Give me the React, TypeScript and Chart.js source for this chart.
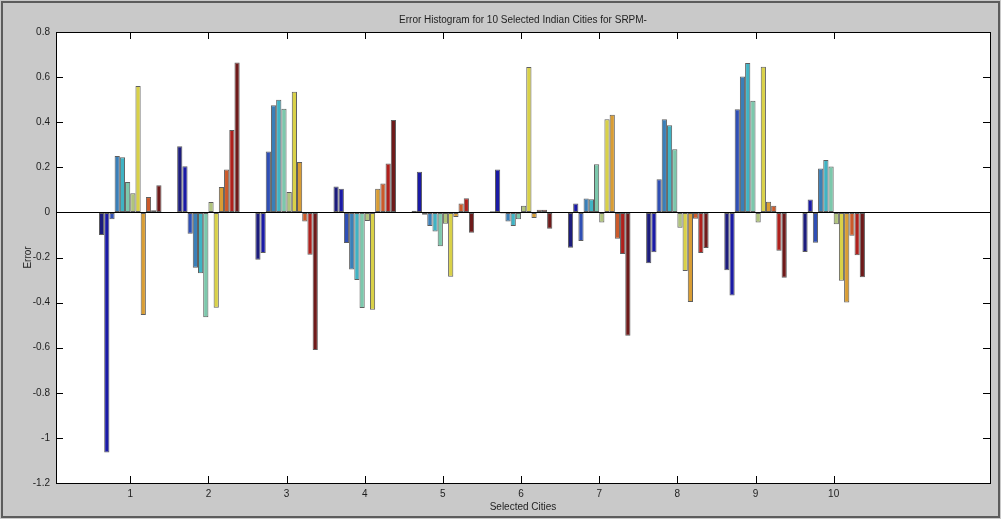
import React, { useEffect, useRef } from "react";
import { Chart, registerables } from "chart.js";

Chart.register(...registerables);

// ---- Data ----
const cityPositions = [1, 2, 3, 4, 5, 6, 7, 8, 9, 10];
const yTicks = [0.8, 0.6, 0.4, 0.2, 0, -0.2, -0.4, -0.6, -0.8, -1, -1.2];

const s1 = [-0.10, 0.293, -0.21, 0.115, 0.007, 0.005, -0.157, -0.225, -0.257, -0.176];
const s2 = [-1.065, 0.205, -0.18, 0.105, 0.18, 0.19, 0.04, -0.177, -0.368, 0.057];
const s3 = [-0.03, -0.095, 0.27, -0.136, -0.01, -0.005, -0.127, 0.147, 0.457, -0.135];
const s4 = [0.25, -0.245, 0.475, -0.253, -0.06, -0.04, 0.062, 0.413, 0.603, 0.195];
const s5 = [0.245, -0.27, 0.50, -0.30, -0.085, -0.06, 0.058, 0.387, 0.662, 0.232];
const s6 = [0.135, -0.465, 0.46, -0.424, -0.15, -0.03, 0.213, 0.28, 0.495, 0.203];
const s7 = [0.085, 0.046, 0.09, -0.038, -0.05, 0.03, -0.045, -0.068, -0.045, -0.052];
const s8 = [0.56, -0.423, 0.535, -0.432, -0.285, 0.645, 0.413, -0.26, 0.646, -0.303];
const s9 = [-0.455, 0.113, 0.223, 0.105, -0.02, -0.025, 0.433, -0.397, 0.047, -0.40];
const s10 = [0.068, 0.19, -0.04, 0.128, 0.04, 0.012, -0.117, -0.028, 0.03, -0.103];
const s11 = [0.01, 0.365, -0.188, 0.217, 0.063, 0.012, -0.185, -0.18, -0.17, -0.19];
const s12 = [0.12, 0.665, -0.61, 0.41, -0.09, -0.073, -0.547, -0.158, -0.29, -0.288];

const seriesValues = [s1, s2, s3, s4, s5, s6, s7, s8, s9, s10, s11, s12];
const seriesColors = [
  "#1c1c7c", "#1a1aa6", "#2f4fb5", "#3a7fb8", "#3fb3c4", "#7cc8ac",
  "#b0c47c", "#d9d148", "#d99d34", "#cc5a2a", "#b0201c", "#6e1a1a",
];

const titleText = "Error Histogram for 10 Selected Indian Cities for SRPM-";
const xLabel = "Selected Cities";
const yLabel = "Error";

const FONT = "'Liberation Sans', Arial, sans-serif";
const TEXT_COLOR = "#1e1e1e";

const framePlugin = {
  id: "matlabFrame",
  beforeDraw(chart: any) {
    const { ctx, width, height, chartArea: a } = chart;
    ctx.save();
    ctx.fillStyle = "#c9c9c9";
    ctx.fillRect(0, 0, width, height);
    ctx.strokeStyle = "#5c5c5c";
    ctx.lineWidth = 2;
    ctx.strokeRect(2, 2, width - 4, height - 4);
    ctx.fillStyle = "#ffffff";
    ctx.fillRect(a.left, a.top, a.right - a.left, a.bottom - a.top);
    ctx.restore();
  },
  afterDraw(chart: any) {
    const { ctx, chartArea: a, scales } = chart;
    const xs = scales.x;
    const ys = scales.y;
    const tl = 7;
    ctx.save();
    ctx.strokeStyle = "#000";
    ctx.lineWidth = 1;
    ctx.beginPath();
    xs.ticks.forEach((t: any) => {
      const px = Math.round(xs.getPixelForValue(t.value)) + 0.5;
      ctx.moveTo(px, a.bottom);
      ctx.lineTo(px, a.bottom - tl);
      ctx.moveTo(px, a.top);
      ctx.lineTo(px, a.top + tl);
    });
    ys.ticks.forEach((t: any) => {
      const py = Math.round(ys.getPixelForValue(t.value)) + 0.5;
      ctx.moveTo(a.left, py);
      ctx.lineTo(a.left + tl, py);
      ctx.moveTo(a.right, py);
      ctx.lineTo(a.right - tl, py);
    });
    ctx.stroke();
    ctx.strokeRect(Math.round(a.left) + 0.5, Math.round(a.top) + 0.5, Math.round(a.right - a.left), Math.round(a.bottom - a.top));

    ctx.fillStyle = TEXT_COLOR;
    ctx.font = `10px ${FONT}`;
    ctx.textAlign = "center";
    ctx.textBaseline = "middle";
    const cx = (a.left + a.right) / 2;
    ctx.fillText(titleText, cx, 20);
    ctx.fillText(xLabel, cx, 507);
    ctx.translate(28, (a.top + a.bottom) / 2);
    ctx.rotate(-Math.PI / 2);
    ctx.fillText(yLabel, 0, 0);
    ctx.restore();
  },
};

export default function App() {
  const ref = useRef<HTMLCanvasElement | null>(null);

  useEffect(() => {
    document.body.style.margin = "0";
    if (!ref.current) return;
    const datasets = seriesValues.map((vals, i) => ({
      label: `Series ${i + 1}`,
      data: vals.map((v, j) => ({ x: cityPositions[j], y: v })),
      backgroundColor: seriesColors[i],
      borderColor: "rgba(25,25,25,0.7)",
      borderWidth: 1,
      borderSkipped: false,
      categoryPercentage: 0.8,
      barPercentage: 1.0,
    }));

    const chart = new Chart(ref.current, {
      type: "bar",
      data: { datasets },
      plugins: [framePlugin],
      options: {
        responsive: false,
        animation: false,
        layout: { padding: { top: 32, right: 11, left: 0, bottom: 0 } },
        plugins: {
          legend: { display: false },
          tooltip: { enabled: false },
          title: { display: false },
        },
        scales: {
          x: {
            type: "linear",
            min: 0.05,
            max: 12,
            offset: false,
            border: { display: false },
            grid: { display: false, drawTicks: false },
            afterBuildTicks: (scale: any) => {
              scale.ticks = cityPositions.map((v) => ({ value: v }));
            },
            afterFit: (scale: any) => {
              scale.height = 36;
            },
            ticks: {
              padding: 5,
              autoSkip: false,
              maxRotation: 0,
              color: TEXT_COLOR,
              font: { family: FONT, size: 10 },
              callback: (v: any) => String(v),
            },
          },
          y: {
            type: "linear",
            min: -1.2,
            max: 0.8,
            border: { display: false },
            grid: {
              drawTicks: false,
              color: (c: any) => (c.tick && Math.abs(c.tick.value) < 1e-9 ? "#000" : "rgba(0,0,0,0)"),
              lineWidth: 1,
            },
            afterBuildTicks: (scale: any) => {
              scale.ticks = yTicks.map((v) => ({ value: v }));
            },
            afterFit: (scale: any) => {
              scale.width = 56;
            },
            ticks: {
              padding: 6,
              color: TEXT_COLOR,
              font: { family: FONT, size: 10 },
              callback: (v: any) => String(Number(Number(v).toFixed(1))),
            },
          },
        },
      },
    });
    return () => chart.destroy();
  }, []);

  return <canvas ref={ref} width={1001} height={519} style={{ display: "block" }} />;
}
